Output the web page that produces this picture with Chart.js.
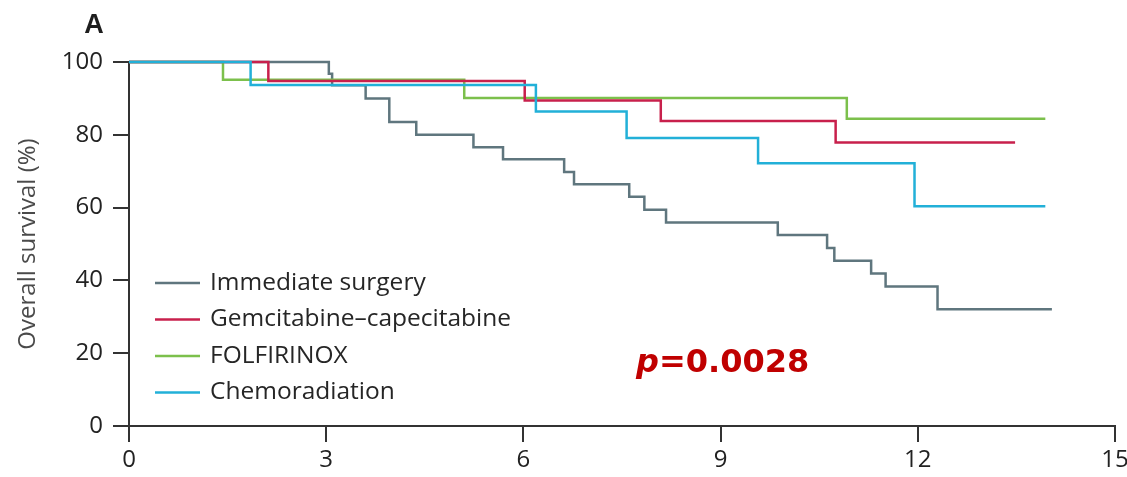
<!DOCTYPE html>
<html>
<head>
<meta charset="utf-8">
<script src="https://cdn.jsdelivr.net/npm/chart.js@4.4.1/dist/chart.umd.min.js"></script>
<style>
  html, body { margin: 0; padding: 0; background: #fff; }
  #wrap { width: 1127px; height: 477px; }
</style>
</head>
<body>
<div id="wrap"><canvas id="kmChart" width="1127" height="477"></canvas></div>
<script>
// months and survival (%)
const surgeryTimes = [0, 3.04, 3.09, 3.60, 3.96, 4.37, 5.24, 5.69, 6.62, 6.77, 7.61, 7.84, 8.17, 9.87, 10.62, 10.73, 11.29, 11.51, 12.30, 14.04];
const surgerySurv  = [100, 96.8, 93.6, 90.0, 83.5, 80.0, 76.6, 73.3, 69.8, 66.4, 63.0, 59.4, 55.9, 52.5, 48.9, 45.4, 41.9, 38.3, 32.1, 32.1];

const gemcapTimes = [0, 2.12, 6.02, 8.09, 10.75, 13.48];
const gemcapSurv  = [100, 94.8, 89.4, 83.8, 77.9, 77.9];

const folfTimes = [0, 1.43, 5.10, 10.92, 13.94];
const folfSurv  = [100, 95.1, 90.1, 84.4, 84.4];

const chemoradTimes = [0, 1.85, 6.19, 7.57, 9.57, 11.95, 13.94];
const chemoradSurv  = [100, 93.7, 86.4, 79.1, 72.2, 60.4, 60.4];

const groupNames = ['Immediate surgery', 'Gemcitabine\u2013capecitabine', 'FOLFIRINOX', 'Chemoradiation'];
const groupColors = ['#5f767e', '#c8204c', '#7cc04c', '#22b0d8'];

const xTicks = [0, 3, 6, 9, 12, 15];
const yTicks = [0, 20, 40, 60, 80, 100];
const pText = '=0.0028';

function toPoints(times, surv) {
  return times.map((t, i) => ({ x: t, y: surv[i] }));
}

const series = [
  toPoints(surgeryTimes, surgerySurv),
  toPoints(gemcapTimes, gemcapSurv),
  toPoints(folfTimes, folfSurv),
  toPoints(chemoradTimes, chemoradSurv)
];
// draw order: chemoradiation on top, surgery at the bottom
const drawOrder = [3, 1, 2, 0];

const extras = {
  id: 'extras',
  afterDraw(chart) {
    const ctx = chart.ctx;
    ctx.save();
    // panel letter
    ctx.fillStyle = '#1e1e1e';
    ctx.font = 'bold 27px "Liberation Sans", Arial, sans-serif';
    ctx.textAlign = 'center';
    ctx.textBaseline = 'alphabetic';
    ctx.fillText('A', 94, 33);

    // legend
    ctx.textAlign = 'left';
    ctx.textBaseline = 'middle';
    ctx.font = '24.5px "Open Sans", sans-serif';
    groupNames.forEach((name, i) => {
      const y = 283 + i * 36.5;
      ctx.strokeStyle = groupColors[i];
      ctx.lineWidth = 2.5;
      ctx.beginPath();
      ctx.moveTo(155, y);
      ctx.lineTo(200, y);
      ctx.stroke();
      ctx.fillStyle = '#262626';
      ctx.fillText(name, 210, y);
    });

    // p value
    ctx.fillStyle = '#c00000';
    ctx.textBaseline = 'alphabetic';
    ctx.font = 'italic bold 32px "DejaVu Sans", sans-serif';
    ctx.fillText('p', 636, 372);
    const pw = ctx.measureText('p').width;
    ctx.font = 'bold 32px "DejaVu Sans", sans-serif';
    ctx.fillText(pText, 636 + pw, 372);
    ctx.restore();
  }
};

new Chart(document.getElementById('kmChart').getContext('2d'), {
  type: 'line',
  data: {
    datasets: series.map((pts, i) => ({
      label: groupNames[i],
      data: pts,
      borderColor: groupColors[i],
      borderWidth: 2.5,
      stepped: true,
      pointRadius: 0,
      fill: false,
      clip: false,
      order: drawOrder[i]
    }))
  },
  options: {
    responsive: false,
    animation: false,
    devicePixelRatio: 1,
    layout: { padding: { top: 62, right: 12, left: 0, bottom: 0 } },
    plugins: { legend: { display: false }, tooltip: { enabled: false } },
    scales: {
      x: {
        type: 'linear',
        min: 0,
        max: 15,
        afterBuildTicks: (scale) => { scale.ticks = xTicks.map(v => ({ value: v })); },
        afterFit: (scale) => { scale.height = 51; scale.paddingLeft = 0; scale.paddingRight = 0; },
        border: { display: true, color: '#333', width: 2 },
        grid: { drawOnChartArea: false, drawTicks: true, tickLength: 16, color: '#333', lineWidth: 2 },
        ticks: { color: '#222', padding: 4, font: { family: 'Open Sans', size: 24 } }
      },
      y: {
        min: 0,
        max: 100,
        afterBuildTicks: (scale) => { scale.ticks = yTicks.map(v => ({ value: v })); },
        afterFit: (scale) => { scale.width = 129; scale.paddingTop = 0; scale.paddingBottom = 0; },
        border: { display: true, color: '#333', width: 2 },
        grid: { drawOnChartArea: false, drawTicks: true, tickLength: 16, color: '#333', lineWidth: 2 },
        ticks: { color: '#222', padding: 10, font: { family: 'Open Sans', size: 24 } },
        title: {
          display: true,
          text: 'Overall survival (%)',
          color: '#4a4a4a',
          font: { family: 'Open Sans', size: 24 },
          padding: { top: 14, bottom: 0 }
        }
      }
    }
  },
  plugins: [extras]
});
</script>
</body>
</html>
